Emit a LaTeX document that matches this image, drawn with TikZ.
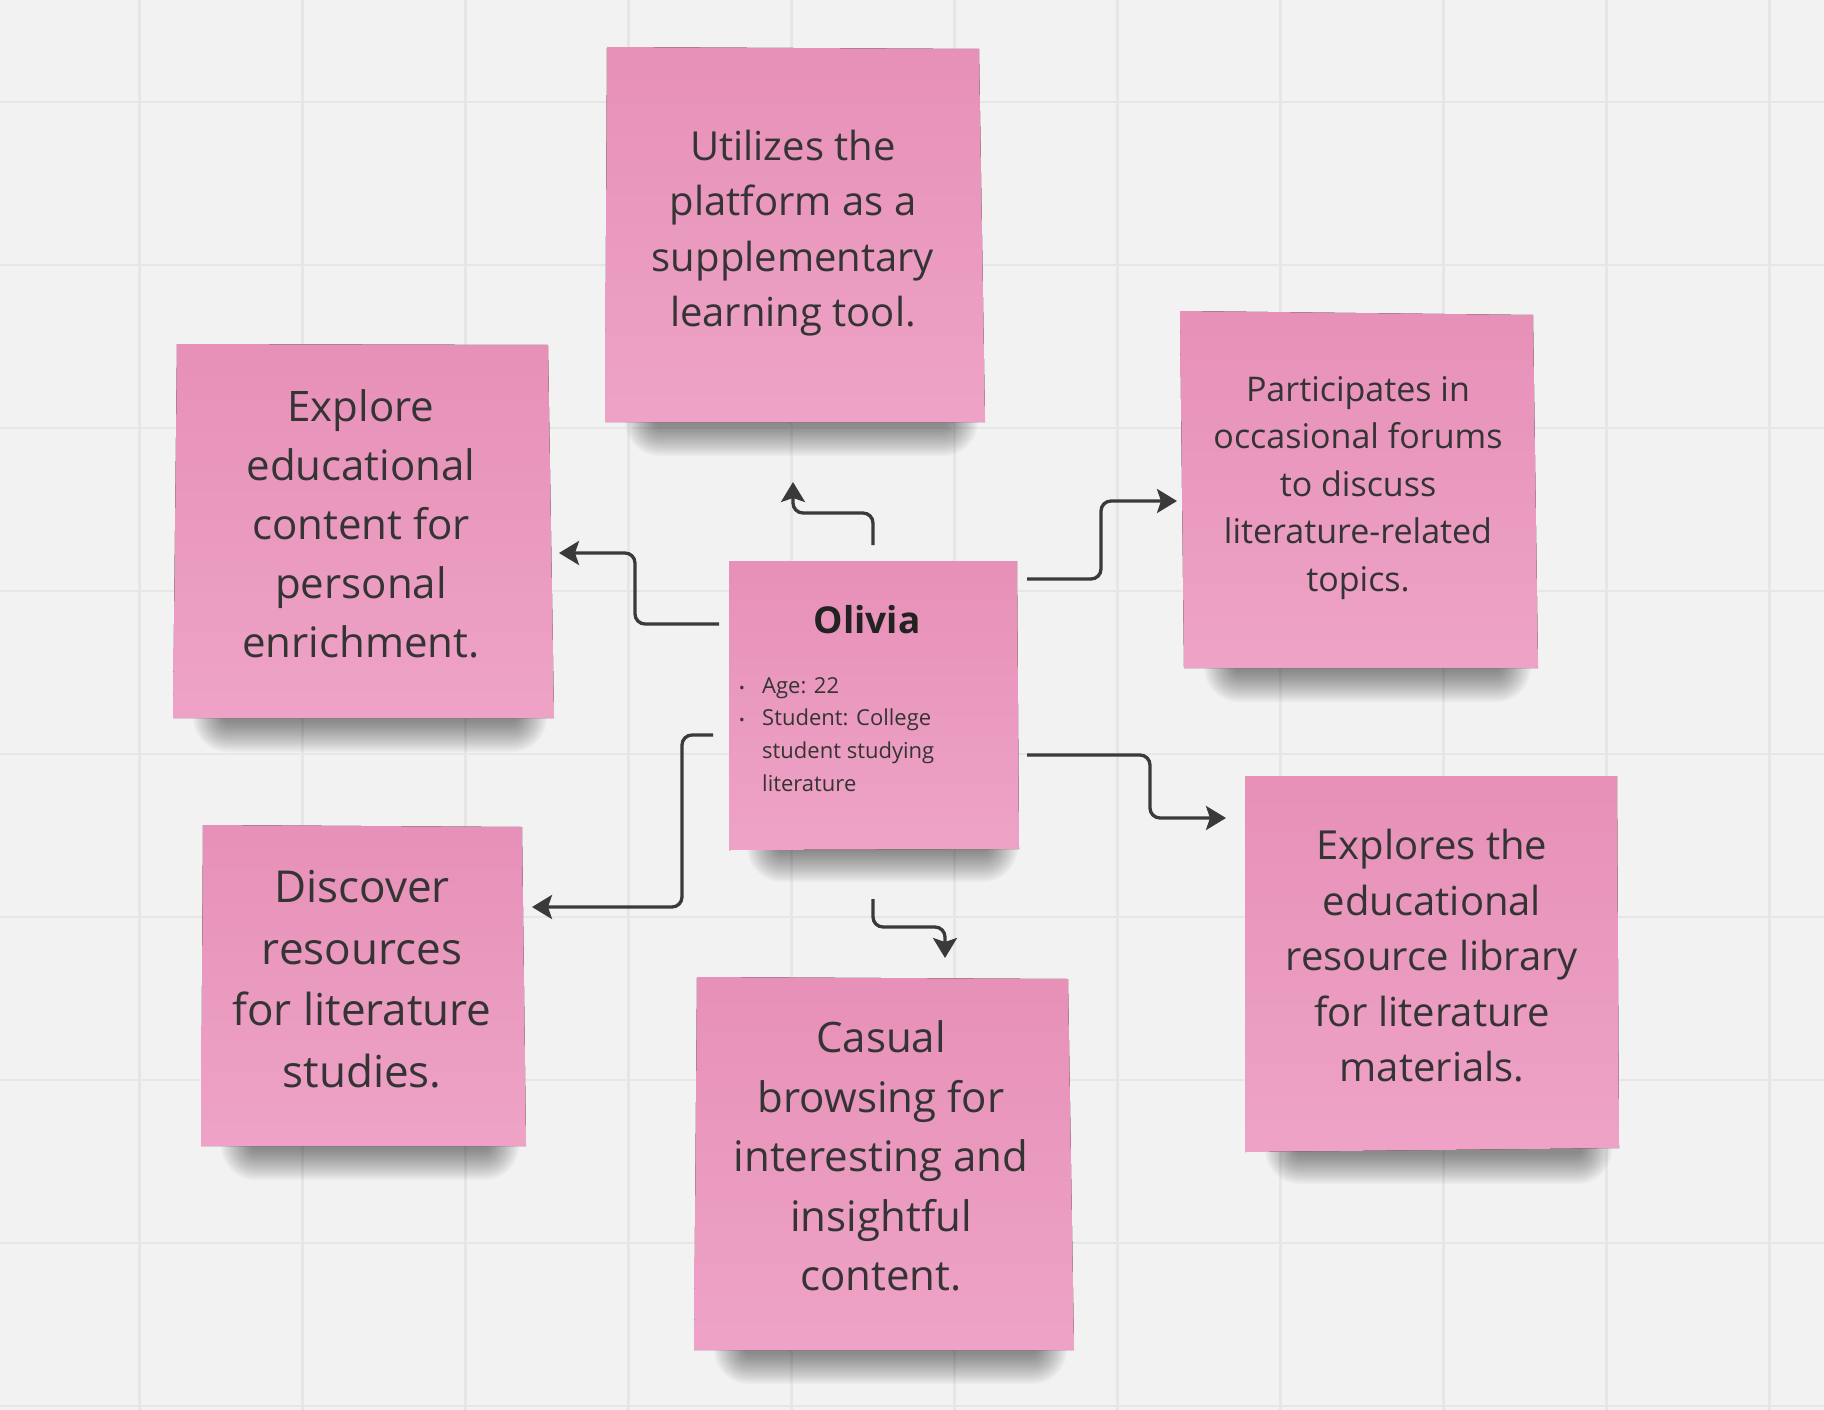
\documentclass[tikz,border=0pt]{standalone}
\usepackage{fontspec}
\setmainfont{Open Sans}
\usetikzlibrary{arrows.meta}
\definecolor{bg}{RGB}{242,242,242}
\definecolor{gridc}{RGB}{230,230,230}
\definecolor{pinktop}{RGB}{231,144,184}
\definecolor{pinkbot}{RGB}{238,163,198}
\definecolor{txt}{RGB}{52,52,52}
\definecolor{ttl}{RGB}{34,34,34}
\definecolor{arr}{RGB}{58,58,58}
\newcommand\bul{\makebox[23pt][l]{{\fontsize{15}{15}\selectfont\textbullet}}}
\newcommand\softshadow[4]{%
  \foreach \k in {0,...,15}{%
    \pgfmathsetmacro\dd{2.0*\k}%
    \pgfmathsetmacro\rr{5+2.0*\k}%
    \fill[black, opacity=0.03, rounded corners=\rr pt] ({#1-\dd},{#2-\dd}) rectangle ({#3+\dd},{#4+\dd});
  }}
\tikzset{
  gridline/.style={draw=gridc, line width=2.5pt},
  sticky/.style={top color=pinktop, bottom color=pinkbot},
  notetext/.style={text=txt, align=center, inner sep=0pt},
  conn/.style={draw=arr, line width=3.3pt, rounded corners=10pt, -{Stealth[length=20pt, width=24pt, inset=4pt]}},
}
\begin{document}
\begin{tikzpicture}[x=1pt, y=-1pt]
\useasboundingbox (0,0) rectangle (1824,1410);
\fill[bg] (0,0) rectangle (1824,1410);
\foreach \i in {0,...,10} \draw[gridline] ({139.5+163*\i},0) -- ({139.5+163*\i},1410);
\foreach \i in {0,...,8} \draw[gridline] (0,{102+163*\i}) -- (1824,{102+163*\i});

% shadows
\softshadow{655}{408}{948}{426}
\softshadow{223}{704}{517}{722}
\softshadow{1234}{654}{1501}{672}
\softshadow{777}{838}{988}{852}
\softshadow{251}{1132}{489}{1150}
\softshadow{744}{1336}{1037}{1354}
\softshadow{1295}{1136}{1582}{1154}

% sticky notes
\fill[sticky] (607,47) -- (979,49) -- (985,422) -- (605,422) -- cycle;
\fill[sticky] (177,344) -- (548,345) -- (554,718) -- (173,718) -- cycle;
\fill[sticky] (1180,311) -- (1533,315) -- (1538,668) -- (1184,668) -- cycle;
\fill[sticky] (729,561) -- (1017,561) -- (1019,849) -- (729,850) -- cycle;
\fill[sticky] (203,825) -- (522,827) -- (526,1146) -- (201,1146) -- cycle;
\fill[sticky] (697,977) -- (1068,979) -- (1074,1350) -- (694,1350) -- cycle;
\fill[sticky] (1245,776) -- (1617,776) -- (1619,1148) -- (1245,1152) -- cycle;

% texts
\node[notetext, font=\fontsize{40}{55.5}\selectfont] (utilize) at (793,233) {Utilizes the\\platform as a\\supplementary\\learning tool.};
\node[notetext, font=\fontsize{42}{59}\selectfont] (explore) at (361,524) {Explore\\educational\\content for\\personal\\enrichment.};
\node[notetext, font=\fontsize{34}{47.5}\selectfont] (forums) at (1358,488) {Participates in\\occasional forums\\to discuss\\literature-related\\topics.};
\node[notetext, font=\fontsize{44}{61.5}\selectfont] (discover) at (362,979) {Discover\\resources\\for literature\\studies.};
\node[notetext, font=\fontsize{42}{59.5}\selectfont] (casual) at (881,1156) {Casual\\browsing for\\interesting and\\insightful\\content.};
\node[notetext, font=\fontsize{40}{55.5}\selectfont] (library) at (1432,956) {Explores the\\educational\\resource library\\for literature\\materials.};

\node[anchor=base, inner sep=0pt, text=ttl, font=\fontsize{37}{44}\selectfont\bfseries] (olivia) at (867,633) {Olivia};
\node[anchor=base west, inner sep=0pt, text=txt, font=\fontsize{22}{32.7}\selectfont] (info) at (739,693)
  {\begin{tabular}[t]{@{}l@{}l@{}}
   \bul & Age: 22\\
   \bul & Student: College\\
        & student studying\\
        & literature
   \end{tabular}};

% connector end points
\coordinate (a1s) at (873,545); \coordinate (a1e) at (793,482);
\coordinate (a2s) at (719,624); \coordinate (a2e) at (559,553);
\coordinate (a3s) at (713,735); \coordinate (a3e) at (532,907);
\coordinate (a4s) at (1027,579); \coordinate (a4e) at (1177,501);
\coordinate (a5s) at (1027,755); \coordinate (a5e) at (1226,818);
\coordinate (a6s) at (873,899); \coordinate (a6e) at (945,958);

\draw[conn] (a1s) -- ++(0,-32) -| (a1e);
\draw[conn] (a2s) -- ++(-84,0) |- (a2e);
\draw[conn] (a3s) -- ++(-31,0) |- (a3e);
\draw[conn] (a4s) -- ++(74,0) |- (a4e);
\draw[conn] (a5s) -- ++(123,0) |- (a5e);
\draw[conn] (a6s) -- ++(0,28) -| (a6e);
\end{tikzpicture}
\end{document}
